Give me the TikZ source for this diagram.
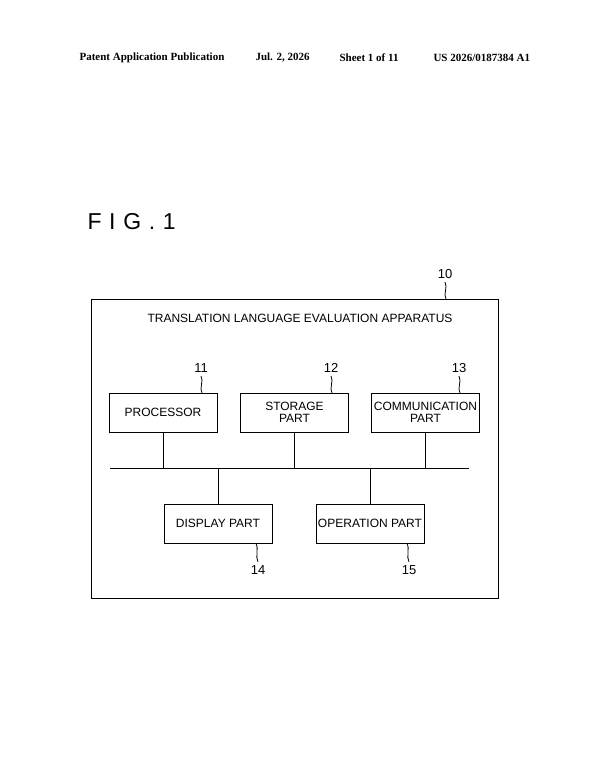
\documentclass[tikz,border=0pt]{standalone}
\usepackage{fontspec}
\setmainfont{Liberation Serif}
\setsansfont{Liberation Sans}
\begin{document}
\begin{tikzpicture}[x=1pt,y=-1pt,
  box/.style={draw,line width=0.8pt,minimum width=108pt,minimum height=39pt,align=center,inner sep=0pt,font=\sffamily\fontsize{12}{11.5}\selectfont},
  lbl/.style={font=\sffamily\fontsize{13}{13}\selectfont},
  ln/.style={line width=0.8pt},
  hd/.style={font=\bfseries\fontsize{11}{12}\selectfont,anchor=west}]
\useasboundingbox (0,0) rectangle (600,774);
\node[hd] (h1) at (76,58) {Patent Application Publication};
\node[hd] (h2) at (252,58) {Jul. 2, 2026};
\node[hd] (h3) at (336,58) {Sheet 1 of 11};
\node[hd] (h4) at (430,58) {US 2026/0187384 A1};
\node[anchor=west,font=\sffamily\fontsize{23}{23}\selectfont] (fig) at (84,222) {F\,\,I\,\,G\,\,.\,\,1};
\node[draw,line width=0.8pt,minimum width=407pt,minimum height=299pt,inner sep=0pt] (outer) at (294.5,448.5) {};
\node[font=\sffamily\fontsize{12}{12}\selectfont] (title) at (300,318) {TRANSLATION LANGUAGE EVALUATION APPARATUS};
\node[box] (p) at (163,412.5) {PROCESSOR};
\node[box] (s) at (294.5,412.5) {STORAGE\\PART};
\node[box] (c) at (425.5,412.5) {COMMUNICATION\\PART};
\node[box] (d) at (218,523.5) {DISPLAY PART};
\node[box] (o) at (370,523.5) {OPERATION PART};
\coordinate (bl) at (110,468);
\coordinate (br) at (469,468);
\draw[ln] (bl) -- (br);
\draw[ln] (p.south) -- (p.south |- bl);
\draw[ln] (s.south) -- (s.south |- bl);
\draw[ln] (c.south) -- (c.south |- bl);
\draw[ln] (d.north) -- (d.north |- bl);
\draw[ln] (o.north) -- (o.north |- bl);
\node[lbl] (n10) at (445,274) {10};
\node[lbl] (n11) at (201,368) {11};
\node[lbl] (n12) at (331,368) {12};
\node[lbl] (n13) at (459,368) {13};
\node[lbl] (n14) at (258,570) {14};
\node[lbl] (n15) at (409,570) {15};
\draw[ln] (n10.south) .. controls ++(3,5) and ++(-3,-5) .. (446,299);
\draw[ln] (n11.south) .. controls ++(3,5) and ++(-3,-5) .. (202,393);
\draw[ln] (n12.south) .. controls ++(3,5) and ++(-3,-5) .. (332,393);
\draw[ln] (n13.south) .. controls ++(3,5) and ++(-3,-5) .. (460,393);
\draw[ln] (256,543) .. controls ++(3,5) and ++(-3,-5) .. (n14.north);
\draw[ln] (407,543) .. controls ++(3,5) and ++(-3,-5) .. (n15.north);
\end{tikzpicture}
\end{document}
